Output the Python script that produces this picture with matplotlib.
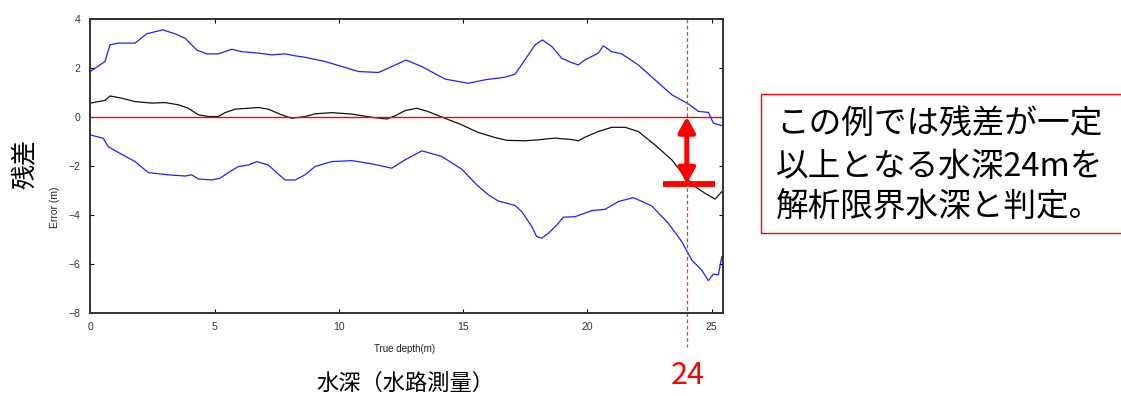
import numpy as np
import matplotlib.pyplot as plt
from matplotlib.patches import Rectangle

# values
upper_x = [0, 0.59, 0.79, 1.13, 1.80, 2.27, 2.91, 3.41, 3.81, 4.28, 4.68, 5.15, 5.69, 6.09,
           6.76, 7.30, 7.83, 8.24, 8.64, 9.44, 10.79, 11.59, 12.13, 12.70, 13.34, 14.27,
           15.21, 15.88, 16.69, 17.09, 17.49, 17.90, 18.19, 18.57, 18.97, 19.37, 19.64,
           19.91, 20.44, 20.64, 20.98, 21.38, 22.05, 22.72, 23.40, 24.06, 24.47, 24.87,
           25.07, 25.41]
upper_y = [1.85, 2.26, 2.94, 3.01, 3.01, 3.39, 3.55, 3.39, 3.21, 2.73, 2.57, 2.57, 2.76, 2.66,
           2.60, 2.53, 2.57, 2.49, 2.43, 2.26, 1.85, 1.81, 2.05, 2.32, 2.05, 1.54,
           1.37, 1.51, 1.62, 1.74, 2.33, 2.94, 3.14, 2.87, 2.39, 2.21, 2.12,
           2.33, 2.60, 2.90, 2.66, 2.57, 2.12, 1.51, 0.90, 0.53, 0.22, 0.18,
           -0.26, -0.36]

mean_x = [0, 0.59, 0.79, 1.26, 1.80, 2.47, 3.01, 3.54, 3.94, 4.35, 4.75, 5.15, 5.42, 5.82,
          6.76, 7.16, 7.70, 8.10, 8.64, 9.04, 9.71, 10.52, 11.32, 11.93, 12.26, 12.66,
          13.13, 13.60, 14.27, 14.95, 15.61, 16.29, 16.76, 17.49, 18.03, 18.70, 19.37,
          19.64, 19.91, 20.44, 20.98, 21.52, 22.05, 22.72, 23.40, 23.93, 24.33, 24.73,
          25.14, 25.41]
mean_y = [0.56, 0.67, 0.85, 0.76, 0.62, 0.56, 0.58, 0.49, 0.35, 0.08, 0.01, 0.01, 0.17, 0.31,
          0.38, 0.31, 0.08, -0.06, 0.01, 0.12, 0.17, 0.11, -0.02, -0.09, 0.04, 0.25,
          0.35, 0.21, -0.06, -0.33, -0.64, -0.85, -0.96, -0.98, -0.94, -0.87, -0.93,
          -0.98, -0.83, -0.60, -0.43, -0.43, -0.60, -1.15, -1.76, -2.44, -2.85, -3.12,
          -3.36, -3.06]

lower_x = [0, 0.52, 0.72, 1.13, 1.80, 2.33, 3.14, 3.81, 4.08, 4.35, 4.88, 5.22, 5.55, 5.96,
           6.36, 6.70, 7.16, 7.83, 8.24, 8.64, 9.04, 9.71, 10.52, 11.32, 12.13, 12.66,
           13.34, 14.14, 14.95, 15.55, 16.02, 16.42, 17.09, 17.36, 17.76, 17.96, 18.16,
           18.43, 18.83, 19.03, 19.50, 20.18, 20.71, 21.25, 21.85, 22.59, 23.26, 23.80,
           24.20, 24.60, 24.87, 25.07, 25.27, 25.41]
lower_y = [-0.74, -0.88, -1.22, -1.46, -1.83, -2.28, -2.37, -2.42, -2.37, -2.54, -2.58, -2.51,
           -2.28, -2.03, -1.97, -1.83, -1.97, -2.58, -2.58, -2.37, -2.03, -1.83, -1.79,
           -1.92, -2.10, -1.76, -1.39, -1.62, -2.14, -2.78, -3.19, -3.44, -3.62, -3.87,
           -4.48, -4.89, -4.96, -4.76, -4.35, -4.10, -4.08, -3.83, -3.78, -3.46, -3.30,
           -3.64, -4.35, -5.10, -5.85, -6.26, -6.69, -6.42, -6.46, -5.71]

limit_depth = 24
residual_at_limit = -2.73
xticks = [0, 5, 10, 15, 20, 25]
yticks = [-8, -6, -4, -2, 0, 2, 4]

cjk = ['Noto Sans CJK JP', 'DejaVu Sans']

fig = plt.figure(figsize=(11.21, 3.96), dpi=100)
ax = fig.add_axes([0.0806, 0.2104, 0.5644, 0.742])

ax.plot(upper_x, upper_y, color='#2020ff', lw=0.9)
ax.plot(lower_x, lower_y, color='#2020ff', lw=0.9)
ax.plot(mean_x, mean_y, color='#111111', lw=0.9)
ax.axhline(0, color='red', lw=1.0)

ax.set_xlim(0, 25.46)
ax.set_ylim(-8, 4)
ax.set_xticks(xticks)
ax.set_yticks(yticks)
ax.tick_params(direction='in', length=3, width=0.8, top=True, right=True,
               labelsize=7.5, labelcolor='#333333', pad=7)
for lab in ax.get_xticklabels() + ax.get_yticklabels():
    lab.set_family('Liberation Sans')
for s in ax.spines.values():
    s.set_linewidth(1.4)
    s.set_color('#333333')

# threshold marker at 24 m
ax.plot([limit_depth, limit_depth], [4, -9.4], color='#ff3030', lw=0.9,
        ls=(0, (3, 2)), clip_on=False)
ax.annotate('', xy=(limit_depth, 0), xytext=(limit_depth, residual_at_limit),
            arrowprops=dict(arrowstyle='<|-|>,head_length=0.9,head_width=0.5',
                            color='red', lw=3.5, shrinkA=0, shrinkB=0))
ax.plot([23.03, 25.14], [-2.75, -2.75], color='red', lw=4.2,
        solid_capstyle='butt', clip_on=False)

fig.text(0.3613, 0.119, 'True depth(m)', fontsize=7, color='#222222',
         family='Liberation Sans', ha='center', va='center')
fig.text(0.049, 0.477, 'Error (m)', fontsize=7.5, color='#222222',
         family='Liberation Sans', rotation=90, ha='center', va='center')
fig.text(0.022, 0.586, '残差', fontsize=18, family=cjk, rotation=90,
         ha='center', va='center')
fig.text(0.3613, 0.033, '水深（水路測量）', fontsize=16, family=cjk,
         ha='center', va='center')
fig.text(688 / 1121, 1 - 375 / 396, '24', fontsize=22, color='red', family=cjk,
         ha='center', va='center')

fig.patches.append(Rectangle((761 / 1121, 1 - 233 / 396), 400 / 1121, 139 / 396,
                             transform=fig.transFigure, fill=False,
                             edgecolor='red', lw=1.0))
for i, line in enumerate(['この例では残差が一定', '以上となる水深24mを', '解析限界水深と判定。']):
    fig.text(776 / 1121, 1 - (125 + 41.5 * i) / 396, line, fontsize=23.5,
             family=cjk, ha='left', va='center')

fig.savefig('out.png', dpi=100)
